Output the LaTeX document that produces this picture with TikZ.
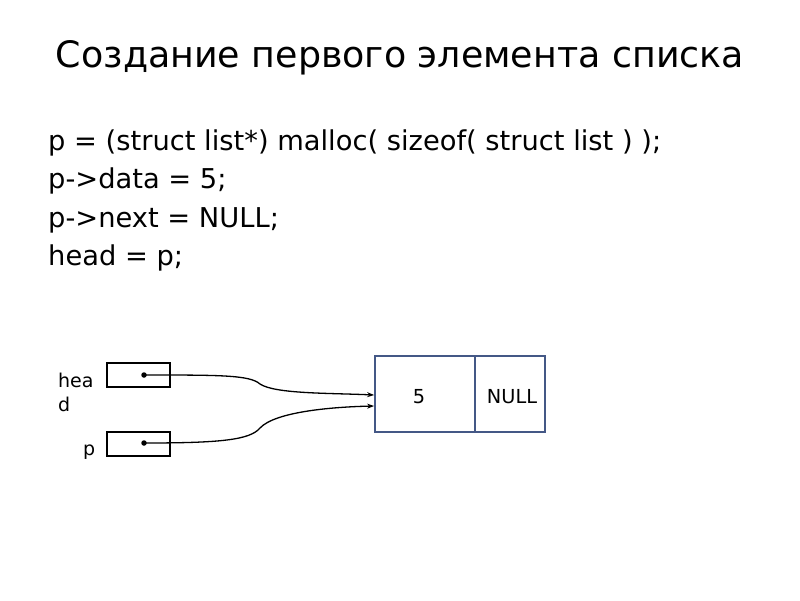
\documentclass[tikz,border=0pt]{standalone}
\usepackage{fontspec}
\setmainfont{DejaVu Sans}
\usetikzlibrary{arrows.meta}
\definecolor{boxblue}{RGB}{68,88,134}
\begin{document}
\begin{tikzpicture}[x=1pt,y=-1pt,
  cell/.style={draw,line width=1.5pt,minimum width=63pt,minimum height=24pt,inner sep=0pt},
  lbl/.style={font=\fontsize{19}{22}\selectfont,inner sep=0pt},
  codeline/.style={anchor=base west,font=\fontsize{27.3}{32}\selectfont,inner sep=0pt},
  conn/.style={line width=1.3pt,-{Stealth[length=7pt,width=5pt]}},
  dot/.style={circle,fill,inner sep=0pt,minimum size=5.5pt},
  memcell/.style={draw=boxblue,line width=1.8pt,minimum height=76pt,inner sep=0pt}]
\useasboundingbox (0,0) rectangle (800,600);
\node[anchor=base,font=\fontsize{36.4}{42}\selectfont,inner sep=0pt] (title) at (400,67) {Создание первого элемента списка};
\node[codeline] (l1) at (48,150) {p = (struct list*) malloc( sizeof( struct list ) );};
\node[codeline] (l2) at (48,188.5) {p->data = 5;};
\node[codeline] (l3) at (48,227) {p->next = NULL;};
\node[codeline] (l4) at (48,265) {head = p;};
\node[cell] (hbox) at (138.5,375) {};
\node[cell] (pbox) at (138.5,444) {};
\node[dot] (hdot) at (144,375) {};
\node[dot] (pdot) at (144,443) {};
\node[memcell,minimum width=100pt] (data) at (425,394) {};
\node[memcell,minimum width=70pt] (next) at (510,394) {};
\node[font=\fontsize{19.3}{22}\selectfont,inner sep=0pt] (five) at (419,397) {5};
\node[font=\fontsize{19.3}{22}\selectfont,inner sep=0pt] (null) at (512,397) {NULL};
\node[lbl,anchor=base west] (hl1) at (58,387) {hea};
\node[lbl,anchor=base west] (hl2) at (58,411) {d};
\node[lbl,anchor=base west] (pl) at (83,455) {p};
\coordinate (ht) at (375,395);
\coordinate (pt) at (375,406);
\draw[conn] (hdot.center) .. controls (220,375) and (250,375) .. (260,384) .. controls (275,394) and (330,393) .. (data.west |- ht);
\draw[conn] (pdot.center) .. controls (220,443) and (250,440) .. (260,428) .. controls (275,412) and (330,407) .. (data.west |- pt);
\end{tikzpicture}
\end{document}
